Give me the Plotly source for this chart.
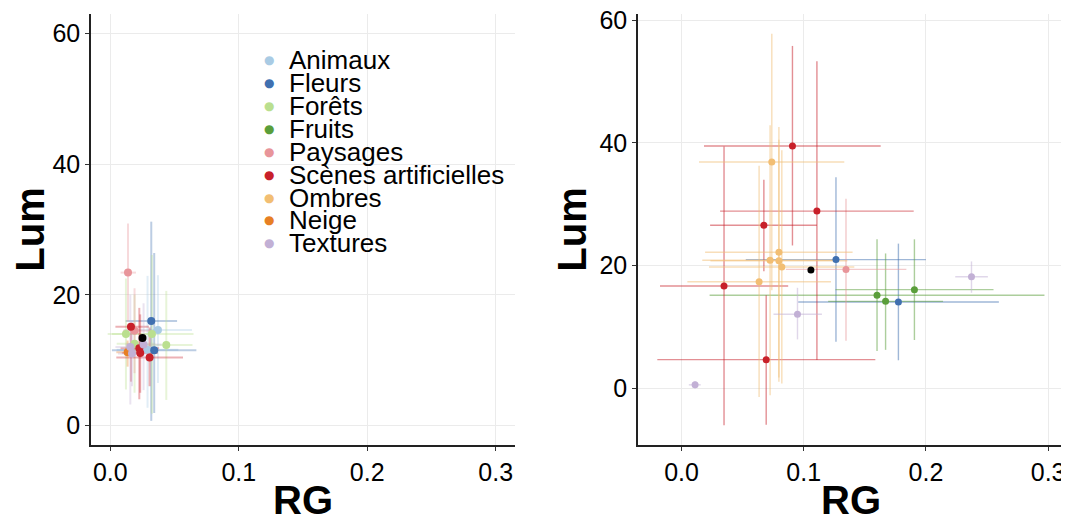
import plotly.graph_objects as go
from plotly.subplots import make_subplots

CATEGORIES = ["Animaux", "Fleurs", "Forêts", "Fruits", "Paysages",
              "Scènes artificielles", "Ombres", "Neige", "Textures"]
COLORS = ["#A9CBE4", "#4070B0", "#BADF8F", "#5A9E3A", "#E8959A",
          "#C8202A", "#F2BE73", "#E77F24", "#C2B0D5"]

# ---- left panel (per-image category summaries) ----
L_cat = ["Animaux", "Animaux", "Fleurs", "Fleurs", "Forêts", "Forêts", "Forêts", "Forêts",
         "Paysages", "Paysages", "Scènes artificielles", "Scènes artificielles",
         "Scènes artificielles", "Scènes artificielles", "Neige",
         "Textures", "Textures", "Textures"]
L_rg = [0.0371, 0.0290, 0.0319, 0.0342, 0.0122, 0.0324, 0.0189, 0.0436,
        0.0138, 0.0189, 0.0161, 0.0226, 0.0233, 0.0306, 0.0135,
        0.0259, 0.0156, 0.0169]
L_lum = [14.6, 11.6, 16.0, 11.5, 14.0, 14.0, 12.5, 12.3,
         23.4, 14.5, 15.1, 11.8, 11.1, 10.4, 11.2,
         12.4, 12.0, 11.0]
L_rg_lo = [0.0106, 0.0050, 0.0120, 0.0013, -0.0020, 0.0013, 0.0050, 0.0230,
           0.0080, 0.0100, 0.0040, 0.0080, 0.0090, 0.0047, 0.0047,
           0.0120, 0.0040, 0.0060]
L_rg_hi = [0.0636, 0.0530, 0.0520, 0.0670, 0.0300, 0.0648, 0.0350, 0.0640,
           0.0200, 0.0300, 0.0300, 0.0380, 0.0370, 0.0566, 0.0223,
           0.0400, 0.0270, 0.0280]
L_lum_lo = [6.5, 2.7, 0.7, 1.9, 5.5, 1.8, 5.0, 3.9,
            15.9, 8.0, 6.7, 4.0, 5.0, 6.0, 9.0,
            5.4, 3.2, 6.0]
L_lum_hi = [23.0, 22.9, 31.2, 26.4, 22.5, 26.1, 20.0, 20.6,
            30.9, 21.0, 15.7, 18.0, 17.0, 15.0, 13.0,
            18.7, 20.0, 16.0]
L_mean_rg = [0.0251]
L_mean_lum = [13.4]

# ---- right panel ----
R_cat = ["Fleurs", "Fleurs", "Fruits", "Fruits", "Fruits", "Paysages",
         "Scènes artificielles", "Scènes artificielles", "Scènes artificielles",
         "Scènes artificielles", "Scènes artificielles",
         "Ombres", "Ombres", "Ombres", "Ombres", "Ombres", "Ombres",
         "Textures", "Textures", "Textures"]
R_rg = [0.1264, 0.1775, 0.1600, 0.1670, 0.1906, 0.1346,
        0.0908, 0.1108, 0.0674, 0.0348, 0.0693,
        0.0739, 0.0797, 0.0725, 0.0797, 0.0821, 0.0635,
        0.0949, 0.0111, 0.2373]
R_lum = [21.0, 14.1, 15.2, 14.2, 16.1, 19.4,
         39.5, 28.9, 26.6, 16.7, 4.7,
         36.9, 22.2, 20.9, 20.8, 19.8, 17.4,
         12.1, 0.6, 18.2]
R_rg_lo = [0.0526, 0.0955, 0.0230, 0.1200, 0.1260, 0.0854,
           0.0184, 0.0316, 0.0234, -0.0176, -0.0198,
           0.0143, 0.0193, 0.0170, 0.0237, 0.0225, 0.0048,
           0.0753, 0.0060, 0.2240]
R_rg_hi = [0.2000, 0.2597, 0.2970, 0.2140, 0.2553, 0.1840,
           0.1630, 0.1900, 0.1108, 0.0873, 0.1586,
           0.1332, 0.1400, 0.1280, 0.1357, 0.1414, 0.1223,
           0.1149, 0.0157, 0.2507]
R_lum_lo = [7.6, 4.6, 6.1, 6.3, 7.9, 7.8,
            23.3, 4.65, 19.1, -6.0, -5.9,
            16.0, 1.8, -1.1, 1.1, 0.8, -1.4,
            8.0, 0.0, 15.6]
R_lum_hi = [34.4, 23.6, 24.3, 22.0, 24.3, 30.9,
            55.8, 53.3, 34.0, 39.4, 15.2,
            57.8, 42.6, 42.9, 40.5, 38.8, 36.3,
            16.4, 1.2, 20.7]
R_mean_rg = [0.1059]
R_mean_lum = [19.3]

X_TICKS = [0.0, 0.1, 0.2, 0.3]
Y_TICKS = [0, 20, 40, 60]

# page is offset by the default 8px body margin
W, H = 1061, 514
OFF = 8


def px_x(p):
    return (p - OFF) / W


def px_y(p):
    return 1 - (p - OFF) / H


def rgba(hexc, a):
    h = hexc.lstrip("#")
    return "rgba(%d,%d,%d,%.2f)" % (int(h[0:2], 16), int(h[2:4], 16), int(h[4:6], 16), a)


fig = make_subplots(rows=1, cols=2)

panels = [
    (1, L_cat, L_rg, L_lum, L_rg_lo, L_rg_hi, L_lum_lo, L_lum_hi, L_mean_rg, L_mean_lum, 0.35, 2.0, 8),
    (2, R_cat, R_rg, R_lum, R_rg_lo, R_rg_hi, R_lum_lo, R_lum_hi, R_mean_rg, R_mean_lum, 0.5, 1.4, 7),
]

for (col, cat, rg, lum, rlo, rhi, llo, lhi, mrg, mlum, ealpha, ethick, msize) in panels:
    # error bars layer
    for c, colr in zip(CATEGORIES, COLORS):
        idx = [i for i, k in enumerate(cat) if k == c]
        if not idx:
            continue
        fig.add_trace(go.Scatter(
            x=[rg[i] for i in idx], y=[lum[i] for i in idx], mode="markers",
            showlegend=False, hoverinfo="skip",
            marker=dict(size=1, opacity=0),
            error_x=dict(type="data", symmetric=False,
                         array=[rhi[i] - rg[i] for i in idx],
                         arrayminus=[rg[i] - rlo[i] for i in idx],
                         width=0, thickness=ethick, color=rgba(colr, ealpha)),
            error_y=dict(type="data", symmetric=False,
                         array=[lhi[i] - lum[i] for i in idx],
                         arrayminus=[lum[i] - llo[i] for i in idx],
                         width=0, thickness=ethick, color=rgba(colr, ealpha)),
        ), row=1, col=col)
    # points layer
    for c, colr in zip(CATEGORIES, COLORS):
        idx = [i for i, k in enumerate(cat) if k == c]
        if not idx:
            continue
        fig.add_trace(go.Scatter(
            x=[rg[i] for i in idx], y=[lum[i] for i in idx], mode="markers",
            name=c, showlegend=False,
            marker=dict(size=msize, color=colr, line=dict(width=0)),
        ), row=1, col=col)
    fig.add_trace(go.Scatter(x=mrg, y=mlum, mode="markers", showlegend=False,
                             marker=dict(size=msize, color="black")), row=1, col=col)

axis_common = dict(
    showline=True, linecolor="#222222", linewidth=1.5, mirror=False,
    ticks="outside", ticklen=4, tickcolor="#333333", tickwidth=1,
    showgrid=True, gridcolor="#EBEBEB", gridwidth=1, zeroline=False,
    automargin=False, ticklabeloverflow="allow",
    tickfont=dict(family="Liberation Sans, Arial, sans-serif", size=25, color="black"),
)
title_font = dict(family="Liberation Sans, Arial, sans-serif", size=40, color="black")

fig.update_xaxes(**axis_common, tickvals=X_TICKS, ticktext=["%.1f" % v for v in X_TICKS])
fig.update_yaxes(**axis_common, tickvals=Y_TICKS, ticktext=[str(v) for v in Y_TICKS])

ydom = [px_y(445), px_y(14)]
fig.update_layout(
    xaxis=dict(domain=[px_x(91), px_x(515)], range=[-0.015, 0.315],
               title=dict(text="<b>RG</b>", font=title_font, standoff=8)),
    yaxis=dict(domain=ydom, range=[-3, 63],
               title=dict(text="<b>Lum</b>", font=title_font, standoff=1)),
    xaxis2=dict(domain=[px_x(638), px_x(1064)], range=[-0.0356, 0.313],
                title=dict(text="<b>RG</b>", font=title_font, standoff=8)),
    yaxis2=dict(domain=ydom, range=[-9.2, 61],
                title=dict(text="<b>Lum</b>", font=title_font, standoff=0)),
    width=W, height=H,
    margin=dict(l=0, r=0, t=0, b=0, autoexpand=False),
    plot_bgcolor="white", paper_bgcolor="white",
    showlegend=False,
)

# legend drawn as annotations (tight row spacing)
leg_top = 60.5
leg_step = 22.85
for k, (c, colr) in enumerate(zip(CATEGORIES, COLORS)):
    yp = px_y(leg_top + k * leg_step)
    fig.add_annotation(xref="paper", yref="paper", x=px_x(269), y=yp,
                       text="●", showarrow=False, xanchor="center", yanchor="middle",
                       font=dict(size=12, color=colr, family="DejaVu Sans"))
    fig.add_annotation(xref="paper", yref="paper", x=px_x(287), y=yp,
                       text=c, showarrow=False, xanchor="left", yanchor="middle",
                       font=dict(size=26, color="black", family="Liberation Sans, Arial, sans-serif"))

fig.write_html("out.html")
